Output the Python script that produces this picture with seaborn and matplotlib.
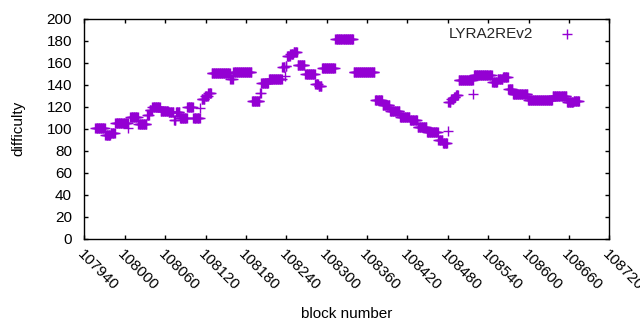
import numpy as np
import pandas as pd
import matplotlib
matplotlib.use("Agg")
import matplotlib.pyplot as plt
import seaborn as sns

# runs of blocks with the same difficulty
run_start = [107956, 107971, 107979, 107986, 108005, 108008, 108020, 108033, 108037,
             108041, 108053, 108065, 108073, 108076, 108082, 108093, 108102, 108112,
             108114, 108119, 108124, 108129, 108157, 108161, 108189, 108201, 108203,
             108214, 108234, 108238, 108239, 108241, 108246, 108251, 108257, 108268,
             108283, 108288, 108293, 108313, 108340, 108372, 108383, 108394, 108409,
             108424, 108435, 108449, 108466, 108473, 108480, 108481, 108485, 108489,
             108492, 108496, 108518, 108519, 108546, 108554, 108562, 108570, 108577,
             108599, 108636, 108657, 108667]
run_end = [107970, 107978, 107985, 108004, 108005, 108019, 108032, 108036, 108040,
           108052, 108064, 108072, 108075, 108081, 108092, 108101, 108111, 108112,
           108118, 108123, 108128, 108156, 108160, 108188, 108200, 108202, 108213,
           108233, 108237, 108238, 108240, 108245, 108250, 108256, 108267, 108282,
           108287, 108292, 108312, 108339, 108371, 108382, 108393, 108408, 108423,
           108434, 108448, 108465, 108472, 108479, 108480, 108484, 108488, 108491,
           108495, 108517, 108518, 108545, 108553, 108561, 108569, 108576, 108598,
           108635, 108656, 108666, 108675]
run_diff = [100.6, 94.0, 96.5, 105.5, 101.0, 111.0, 104.5, 113.0, 117.0,
            120.0, 116.5, 115.5, 108.5, 115.5, 110.0, 120.0, 110.0, 119.0,
            127.0, 130.0, 132.5, 151.0, 145.0, 152.0, 125.0, 132.5, 141.5,
            145.0, 156.5, 148.0, 157.0, 166.0, 168.0, 170.0, 158.0, 150.0,
            141.0, 139.0, 155.5, 181.5, 152.0, 126.0, 122.0, 116.0, 111.0,
            108.0, 102.0, 97.0, 90.0, 87.0, 98.0, 124.0, 127.0, 129.0,
            131.0, 144.5, 132.0, 149.0, 143.0, 145.0, 147.0, 136.0, 132.0,
            126.5, 130.0, 124.5, 125.0]

x_ticks = list(range(107940, 108721, 60))
y_ticks = list(range(0, 201, 20))

blocks, diffs = [], []
for s, e, d in zip(run_start, run_end, run_diff):
    for b in range(s, e + 1):
        blocks.append(b)
        diffs.append(d)
df = pd.DataFrame({"block": blocks, "difficulty": diffs})

sns.set_theme(style="ticks")
plt.rcParams["font.family"] = ["Liberation Sans", "DejaVu Sans"]
plt.rcParams["font.size"] = 11

fig = plt.figure(figsize=(6.4, 3.3), dpi=100)
ax = fig.add_axes([0.132, 0.276, 0.820, 0.667])

sns.scatterplot(data=df, x="block", y="difficulty", ax=ax, marker="+",
                color="#9400d3", s=45, linewidth=1, label="LYRA2REv2")

ax.set_xlim(107940, 108720)
ax.set_ylim(0, 200)
ax.set_xticks(x_ticks)
ax.set_yticks(y_ticks)
ax.set_xticklabels([str(t) for t in x_ticks], rotation=-45, ha="left", va="top",
                   rotation_mode="anchor", fontsize=11)
ax.set_yticklabels([str(t) for t in y_ticks], fontsize=11)
ax.tick_params(direction="in", length=3, width=1, top=True, right=True,
               color="black", labelcolor="black")
ax.tick_params(axis="y", pad=9)
ax.tick_params(axis="x", pad=6)
for sp in ax.spines.values():
    sp.set_visible(True)
    sp.set_color("black")
    sp.set_linewidth(1)

ax.set_xlabel("block number", fontsize=11, color="black", labelpad=10)
ax.set_ylabel("difficulty", fontsize=11, color="black", labelpad=15)

ax.legend(loc="upper right", bbox_to_anchor=(0.948, 0.965), frameon=False,
          markerfirst=False, handletextpad=1.2, borderaxespad=0, borderpad=0,
          fontsize=11)

fig.savefig("out.png", dpi=100)
